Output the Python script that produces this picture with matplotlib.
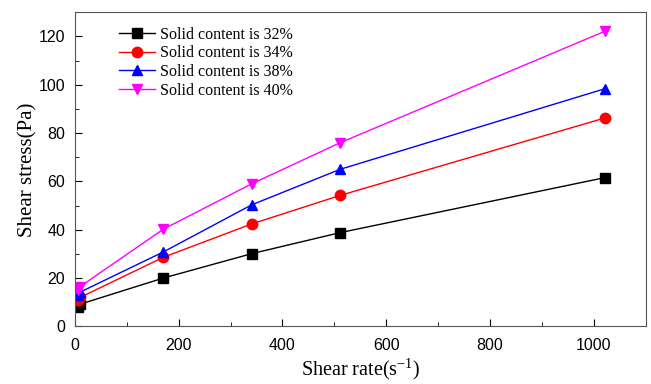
import matplotlib
matplotlib.use("Agg")
import matplotlib.pyplot as plt
from matplotlib.ticker import MultipleLocator

# Shear rate (s^-1) and shear stress (Pa) for each solid content
shear_rate = [5.1, 10.2, 170.3, 340.6, 510.9, 1021.8]
stress_32 = [8.0, 9.2, 20.0, 30.1, 38.8, 61.6]
stress_34 = [10.8, 12.0, 28.6, 42.4, 54.2, 86.3]
stress_38 = [13.0, 14.2, 30.8, 50.3, 65.0, 98.4]
stress_40 = [15.2, 16.5, 40.2, 59.0, 76.0, 122.2]

labels = ["Solid content is 32%", "Solid content is 34%",
          "Solid content is 38%", "Solid content is 40%"]
colors = ["black", "red", "blue", "magenta"]
markers = ["s", "o", "^", "v"]

plt.rcParams["mathtext.fontset"] = "custom"
plt.rcParams["mathtext.rm"] = "Liberation Serif"
plt.rcParams["mathtext.it"] = "Liberation Serif:italic"

fig = plt.figure(figsize=(6.51, 3.84), dpi=100)
ax = fig.add_axes([0.115, 0.15, 0.877, 0.818])

for ys, lab, c, m in zip([stress_32, stress_34, stress_38, stress_40], labels, colors, markers):
    ax.plot(shear_rate, ys, color=c, marker=m, markersize=7.5, linewidth=1, label=lab)

ax.set_xlim(0, 1100)
ax.set_ylim(0, 130)
ax.xaxis.set_major_locator(MultipleLocator(200))
ax.xaxis.set_minor_locator(MultipleLocator(100))
ax.yaxis.set_major_locator(MultipleLocator(20))
ax.yaxis.set_minor_locator(MultipleLocator(10))
ax.tick_params(which="both", direction="in", top=False, right=False, labelsize=11.5)
ax.tick_params(axis="x", which="major", length=5, pad=8)
ax.tick_params(axis="y", which="major", length=5, pad=7)
ax.tick_params(which="minor", length=3)
for lbl in ax.get_xticklabels() + ax.get_yticklabels():
    lbl.set_fontfamily("Liberation Sans")
for sp in ax.spines.values():
    sp.set_color("#555555")

ax.set_xlabel("Shear rate(s$^{\\mathrm{-1}}$)", fontfamily="Liberation Serif", fontsize=14.5, labelpad=3)
ax.set_ylabel("Shear stress(Pa)", fontfamily="Liberation Serif", fontsize=15, labelpad=1)

ax.legend(loc="upper left", bbox_to_anchor=(0.06, 0.985), frameon=False,
          prop={"family": "Liberation Serif", "size": 11.5},
          handlelength=2.3, handletextpad=0.3, labelspacing=0.17, borderaxespad=0.2)

fig.savefig("out.png", dpi=100)
